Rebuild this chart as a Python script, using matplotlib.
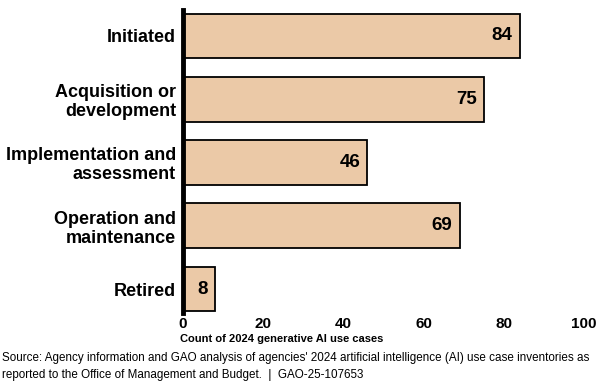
import matplotlib.pyplot as plt

plt.rcParams['font.family'] = ['Liberation Sans', 'DejaVu Sans']

categories = ['Initiated', 'Acquisition or\ndevelopment', 'Implementation and\nassessment',
              'Operation and\nmaintenance', 'Retired']
counts = [84, 75, 46, 69, 8]
xticks = [0, 20, 40, 60, 80, 100]

fig = plt.figure(figsize=(6, 3.86), dpi=100)
ax = fig.add_axes([0.305, 0.189, 0.668, 0.785])

pos = list(range(len(categories)))
ax.barh(pos, counts, height=0.71, color='#EBC9A7', edgecolor='black', linewidth=1.3, zorder=2)
for p, c in zip(pos, counts):
    ax.annotate(str(c), (c, p), xytext=(-5, 0), textcoords='offset points',
                ha='right', va='center', fontsize=13.5, fontweight='bold')

ax.set_xlim(0, 100)
ax.set_ylim(4.38, -0.41)
ax.set_yticks(pos)
ax.set_yticklabels(categories, fontsize=13, fontweight='bold', linespacing=1.15)
ax.set_xticks(xticks)
ax.set_xticklabels([str(t) for t in xticks], fontsize=11, fontweight='bold')
ax.tick_params(length=0, axis='both')
ax.tick_params(axis='y', pad=5)
ax.tick_params(axis='x', pad=3)
for s in ['top', 'right', 'bottom']:
    ax.spines[s].set_visible(False)
ax.spines['left'].set_linewidth(3.5)
ax.spines['left'].set_zorder(3)

fig.text(0.300, 0.121, 'Count of 2024 generative AI use cases', fontsize=8, fontweight='bold',
         ha='left', va='center')
fig.text(0.003, 0.051, "Source: Agency information and GAO analysis of agencies' 2024 artificial intelligence (AI) use case inventories as\n"
         "reported to the Office of Management and Budget.  |  GAO-25-107653",
         fontsize=8.4, ha='left', va='center', linespacing=1.5)

fig.savefig('out.png', dpi=100)
